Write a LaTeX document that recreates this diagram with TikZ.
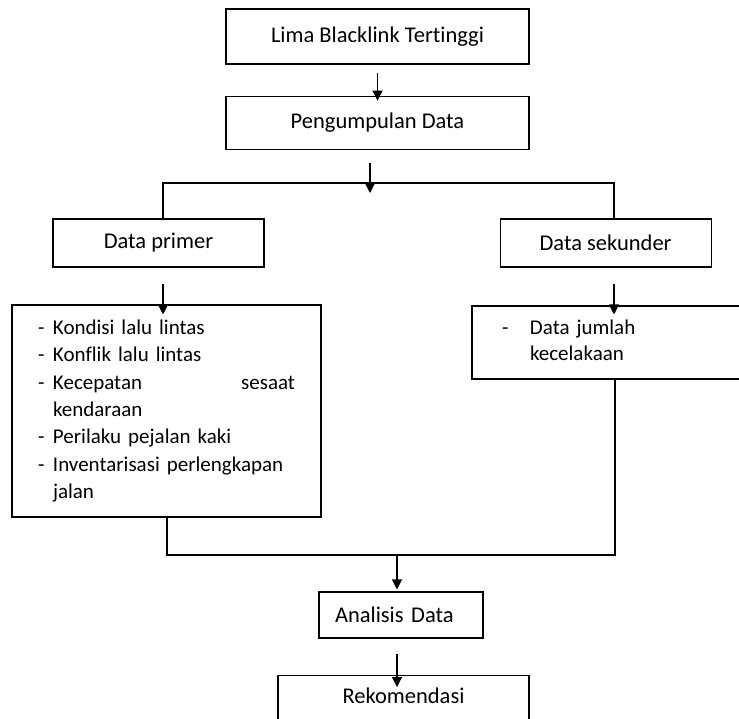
\documentclass[tikz,border=0pt]{standalone}
\usepackage{fontspec}
\setmainfont{Carlito}[Ligatures=NoCommon]
\usepackage{array}
\usetikzlibrary{arrows.meta, positioning}
\tikzset{%
  x=1pt, y=-1pt,        % one unit = one pixel, y downwards
  box/.style={          % plain framed step
    draw, rectangle, line width=1.1pt, inner sep=0pt,
    font=\fontsize{22.5}{27}\selectfont},
  listbox/.style={      % framed list of items
    box, align=left, font=\fontsize{21}{27.3}\selectfont},
  every edge/.style={
    draw,
    -{Triangle[width=10pt,length=10pt]},
    line width=1.1pt}
}

\begin{document}
\begin{tikzpicture}
    \useasboundingbox (0,0) rectangle (739,718);
    \clip (0,0) rectangle (739,718);

    \node[box, minimum width=303pt, minimum height=55pt] (top) at (377.5,36.5)
      {Lima Blacklink Tertinggi};
    \node[box, minimum width=303pt, minimum height=53pt, below=31pt of top] (collect)
      {Pengumpulan Data};
    \node[box, minimum width=211pt, minimum height=48pt] (primer) at (158.5,243)
      {Data primer};
    \node[box, minimum width=211pt, minimum height=48pt, right=235pt of primer] (sekunder)
      {Data sekunder};

    \node[listbox, minimum height=212pt, text width=257pt, inner xsep=26pt] (listL) at (166.5,411)
      {\begin{tabular}{@{}p{15pt}@{}p{242pt}@{}}
        - & Kondisi lalu lintas\\
        - & Konflik lalu lintas\\
        - & Kecepatan \hfill sesaat\\
          & kendaraan\\
        - & Perilaku pejalan kaki\\
        - & Inventarisasi perlengkapan\\
          & jalan
       \end{tabular}};
    \node[listbox, font=\fontsize{21}{26}\selectfont, minimum height=73pt,
      text width=228pt, inner xsep=30pt] (listR) at (616,342.5)
      {\begin{tabular}{@{}p{28pt}@{}l@{}}
        - & Data jumlah\\
          & kecelakaan
       \end{tabular}};

    \node[box, minimum width=164pt, minimum height=46pt, text width=132pt,
      inner xsep=16pt, align=left] (analisis) at (401,615) {Analisis Data};
    \node[box, minimum width=251pt, text height=28pt, text depth=40pt,
      anchor=north] (rekom) at (403.5,675) {Rekomendasi};

    % junctions of the branching lines
    \coordinate (jm) at (370,183);
    \coordinate (jl) at (163,183);
    \coordinate (jr) at (614,183);
    \coordinate (bl) at (167,555);
    \coordinate (br) at (615,555);
    \coordinate (jb) at (397,555);

    \draw[line width=1.1pt]
      (primer.north -| jl) -- (jl) -- (jr) -- (sekunder.north -| jr)
      (listL.south -| bl) -- (bl) -- (br) -- (listR.south -| br);

    \draw
      (top) edge [shorten <=8pt, shorten >=-5pt] (collect)
      (collect.south -| jm) edge [shorten <=13pt, shorten >=-10pt] (jm)
      (primer.south -| jl) edge [shorten <=16pt, shorten >=-10pt] (listL.north -| jl)
      (sekunder.south -| jr) edge [shorten <=16pt, shorten >=-9pt] (listR.north -| jr)
      (jb) edge [shorten >=2pt] (analisis.north -| jb)
      (analisis.south -| jb) edge [shorten <=15pt, shorten >=-12pt] (rekom.north -| jb)
    ;

\end{tikzpicture}
\end{document}
